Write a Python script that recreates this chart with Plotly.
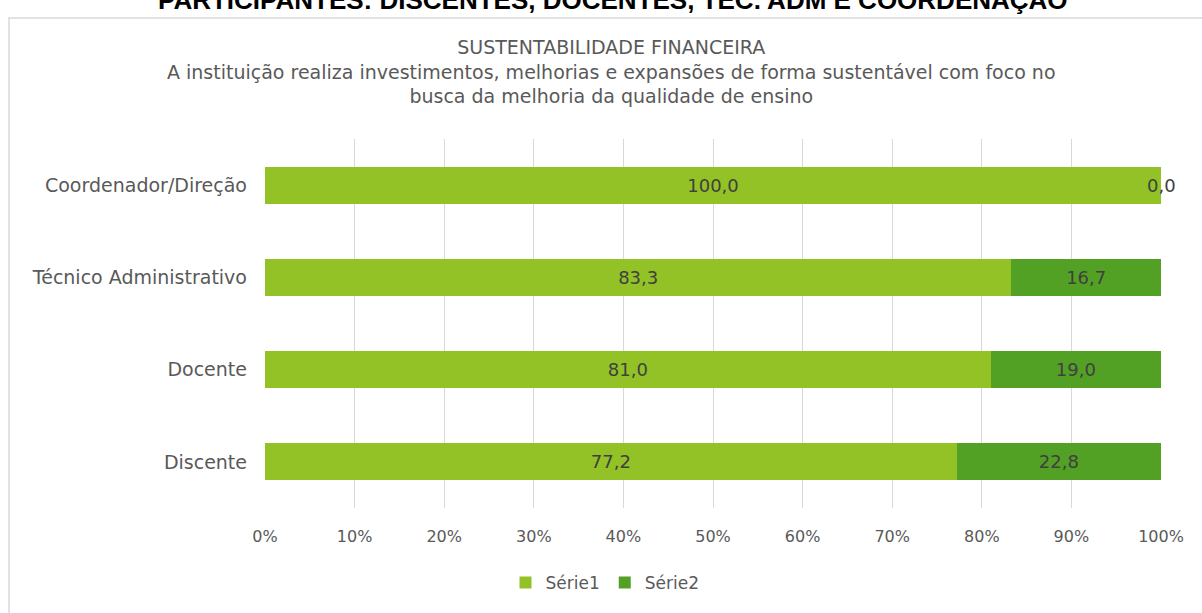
import plotly.graph_objects as go

categories = ["Discente", "Docente", "Técnico Administrativo", "Coordenador/Direção"]
serie1 = [77.2, 81.0, 83.3, 100.0]
serie2 = [22.8, 19.0, 16.7, 0.0]
series_names = ["Série1", "Série2"]
tick_vals = [0, 10, 20, 30, 40, 50, 60, 70, 80, 90, 100]
tick_text = [f"{v}%" for v in tick_vals]

c1 = "#92C225"
c2 = "#52A124"
font_family = "DejaVu Sans, Verdana, sans-serif"

W, H = 1202, 613
ML, MR, MT, MB = 265, 41, 139, 105
pw = W - ML - MR
ph = H - MT - MB

fig = go.Figure()
fig.add_trace(go.Bar(
    y=categories, x=serie1, name=series_names[0], orientation="h",
    marker=dict(color=c1, line=dict(width=0)),
    text=[f"{v:.1f}".replace(".", ",") for v in serie1],
    textposition="inside", insidetextanchor="middle",
    textfont=dict(color="#404040", size=18, family=font_family),
))
fig.add_trace(go.Bar(
    y=categories, x=serie2, name=series_names[1], orientation="h",
    marker=dict(color=c2, line=dict(width=0)),
    text=[f"{v:.1f}".replace(".", ",") if v > 0 else "" for v in serie2],
    textposition="inside", insidetextanchor="middle",
    textfont=dict(color="#404040", size=18, family=font_family),
))

# zero-valued labels drawn at the end of the stacked bar
for cat, a, b in zip(categories, serie1, serie2):
    if b == 0:
        fig.add_annotation(x=a + b, y=cat, xref="x", yref="y", text=f"{b:.1f}".replace(".", ","),
                           showarrow=False, font=dict(color="#404040", size=18, family=font_family),
                           xanchor="center", yanchor="middle")

fig.update_layout(
    width=W, height=H,
    barmode="stack", bargap=0.6,
    paper_bgcolor="white", plot_bgcolor="white",
    margin=dict(l=ML, r=MR, t=MT, b=MB, autoexpand=False),
    font=dict(family=font_family, color="#595959", size=17),
    showlegend=True,
    legend=dict(orientation="h", x=(615 - 10 - ML) / pw, xanchor="center", y=-(583 - MT - ph) / ph,
                yanchor="middle",
                font=dict(size=17, color="#595959"), traceorder="normal",
                itemwidth=30),
    xaxis=dict(range=[0, 100], tickmode="array", tickvals=tick_vals, ticktext=tick_text,
               showgrid=True, gridcolor="#D9D9D9", gridwidth=1,
               zeroline=False, showline=False, ticks="", ticklabelstandoff=17,
               tickfont=dict(size=16, color="#595959")),
    yaxis=dict(showgrid=False, zeroline=False, showline=False, ticks="",
               ticklabelstandoff=17, tickfont=dict(size=19, color="#595959"),
               categoryorder="array", categoryarray=categories),
)

fig.add_annotation(xref="paper", yref="paper", x=(611 - ML) / pw, y=1,
                   yanchor="bottom", xanchor="center",
                   yshift=30, showarrow=False, align="center",
                   text="SUSTENTABILIDADE FINANCEIRA<br>A instituição realiza investimentos, melhorias e expansões de forma sustentável com foco no<br>busca da melhoria da qualidade de ensino",
                   font=dict(size=19, color="#595959", family=font_family))

fig.add_annotation(xref="paper", yref="paper", x=(613 - ML) / pw, y=1,
                   yanchor="bottom", xanchor="center",
                   yshift=122, showarrow=False,
                   text="<b>PARTICIPANTES: DISCENTES, DOCENTES, TEC. ADM E COORDENAÇÃO</b>",
                   font=dict(size=26, color="#000000", family="Liberation Sans, Arial, sans-serif"))

fig.add_shape(type="rect", xref="paper", yref="paper",
              x0=(9 - ML) / pw, x1=(W + 5 - ML) / pw,
              y0=-(H + 10 - MT - ph) / ph, y1=1 + (MT - 18) / ph,
              line=dict(color="#D9D9D9", width=1.5), fillcolor="rgba(0,0,0,0)", layer="below")

fig.write_html("out.html", config={"displayModeBar": False},
               post_script="document.body.style.margin='0';")
